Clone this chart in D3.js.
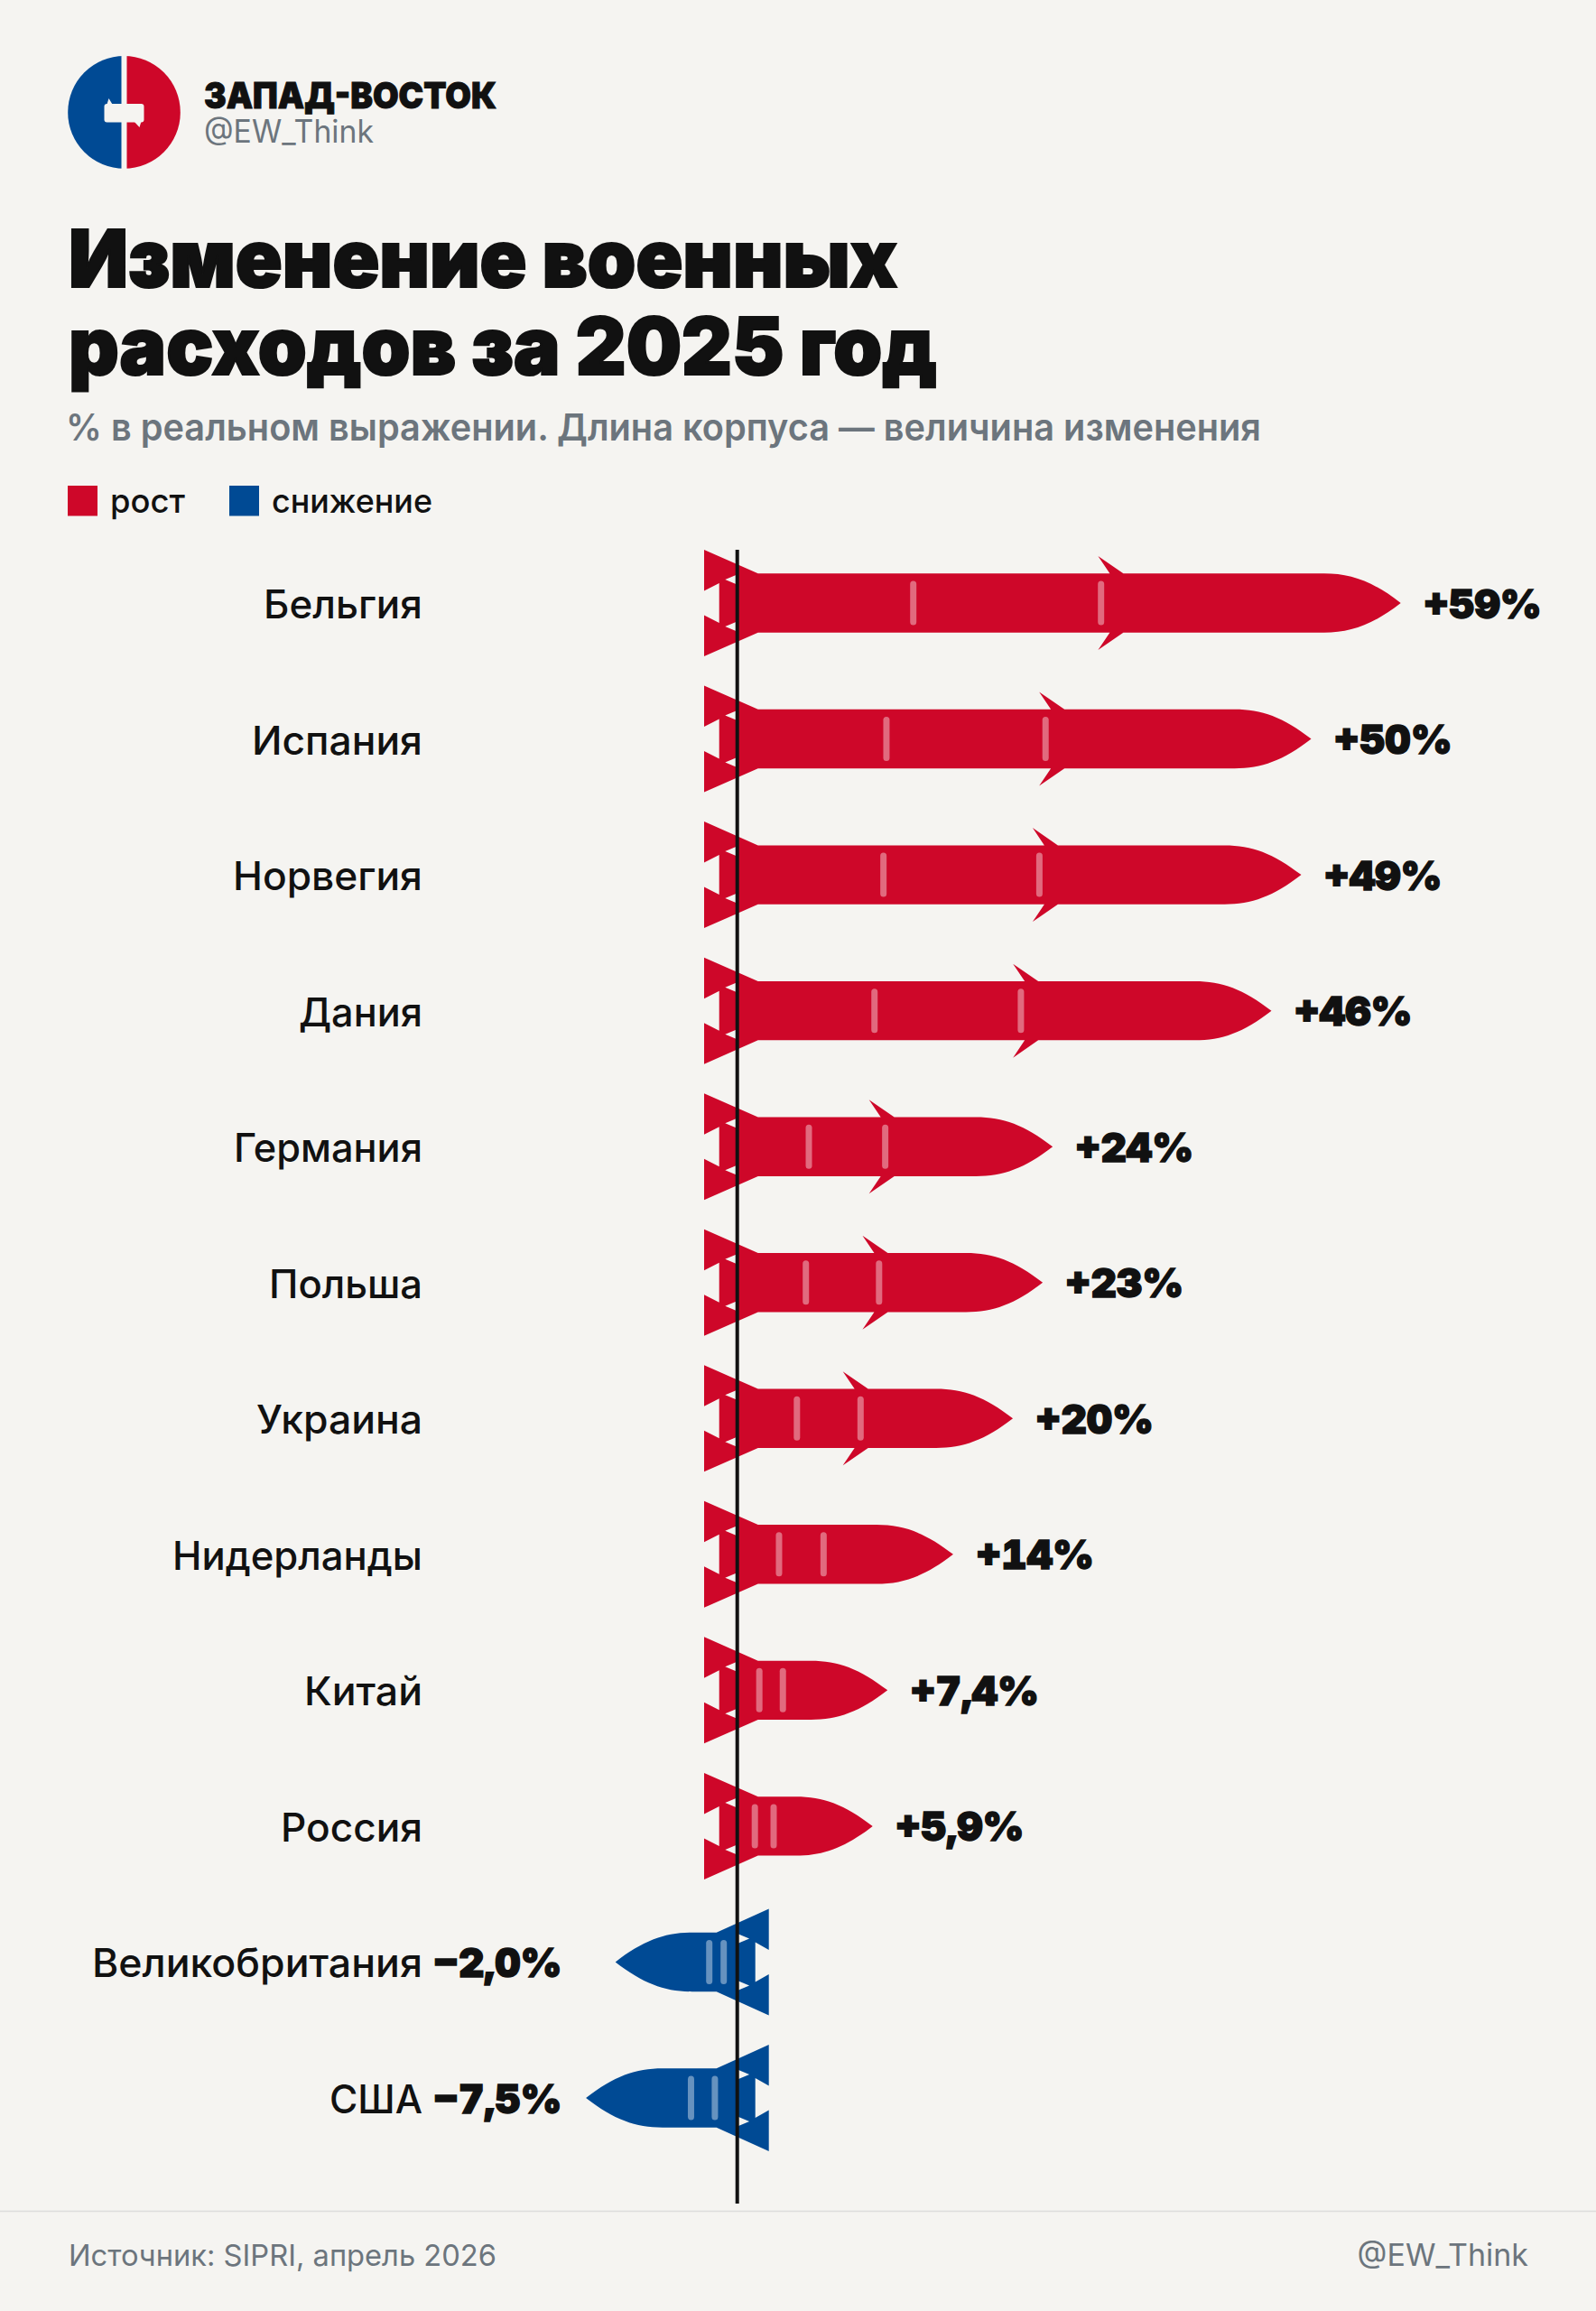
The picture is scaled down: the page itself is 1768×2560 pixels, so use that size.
<!DOCTYPE html>
<html><head><meta charset="utf-8">
<script src="https://cdn.jsdelivr.net/npm/d3@7/dist/d3.min.js"></script>
<style>html,body{margin:0;padding:0;background:#f5f4f1}svg{display:block}text{font-family:Inter,"Noto Sans",sans-serif}</style>
</head><body><div id="chart"></div>
<script>
const countries=["Бельгия","Испания","Норвегия","Дания","Германия","Польша","Украина","Нидерланды","Китай","Россия","Великобритания","США"];
const changes=[59,50,49,46,24,23,20,14,7.4,5.9,-2.0,-7.5];
const valueLabels=["+59%","+50%","+49%","+46%","+24%","+23%","+20%","+14%","+7,4%","+5,9%","−2,0%","−7,5%"];
const legendLabels=["рост","снижение"];
const labelWidths=[176,189,210,137,209,170,184,277,131,157,366,103];
const RED="#ce0729",BLUE="#004a94",INK="#111111",GREY="#6c757d",BG="#f5f4f1";
const W=1768,H=2560,ZERO=816.7;
const svg=d3.select("#chart").append("svg").attr("width",W).attr("height",H).attr("viewBox",`0 0 ${W} ${H}`);
svg.append("rect").attr("width",W).attr("height",H).attr("fill",BG);
function txt(s,x,y,size,weight,fill,anchor,len,stroke){const t=svg.append("text").attr("x",x).attr("y",y).attr("font-size",size).attr("font-weight",weight).attr("fill",fill).attr("text-anchor",anchor||"start").text(s);
 if(len){t.attr("textLength",len).attr("lengthAdjust","spacingAndGlyphs");}
 if(stroke){t.attr("stroke",fill).attr("stroke-width",stroke).attr("stroke-linejoin","miter");}return t;}
// logo
const lg=svg.append("g").attr("transform","translate(137.5,124.400)");
const arc=d3.arc().innerRadius(0).outerRadius(62.3);
lg.append("path").attr("d",arc({startAngle:-Math.PI,endAngle:0})).attr("fill",BLUE);
lg.append("path").attr("d",arc({startAngle:0,endAngle:Math.PI})).attr("fill",RED);
lg.append("rect").attr("x",-3).attr("y",-64).attr("width",6).attr("height",128).attr("fill",BG);
lg.append("rect").attr("x",-22).attr("y",-9.500).attr("width",44).attr("height",20.500).attr("rx",3).attr("fill",BG);
lg.append("path").attr("d","M-19,-9L-17,-15.500L-13,-9Z M11,10L17,16.500L19,10Z").attr("fill",BG);
txt("ЗАПАД-ВОСТОК",226,119.5,40,900,INK,"start",324,1);
txt("@EW_Think",226,158,35,400,GREY,"start",188);
txt("Изменение военных",76,318,88,900,INK,"start",918,2.2);
txt("расходов за 2025 год",76,415,88,900,INK,"start",962,2.2);
txt("% в реальном выражении. Длина корпуса — величина изменения",73,488,41,600,GREY,"start",1324);
const leg=[[75,122,RED,83],[254,301,BLUE,178]];
leg.forEach((l,i)=>{svg.append("rect").attr("x",l[0]).attr("y",538).attr("width",33).attr("height",33.500).attr("fill",l[2]);
 txt(legendLabels[i],l[1],568,37,500,INK,"start",l[3]);});
// chart
const y=d3.scalePoint().domain(countries).range([668,2324]);
const lenScale=d3.scaleLinear().domain([0,59]).range([0,650]);
const MIN_BODY=50,NOSE=85,HB=32.7;
function outline(L,back){const tip=L+NOSE,s=L;const p=d3.path();
 p.moveTo(-back,-59);p.lineTo(23,-HB);
 if(L>200){const f=.658*L-28;p.lineTo(f+13,-HB);p.lineTo(f,-52);p.lineTo(f+28,-HB);}
 p.lineTo(s,-HB);
 p.bezierCurveTo(s+30,-HB,s+54,-24,tip,0);
 p.bezierCurveTo(s+54,24,s+30,HB,s,HB);
 if(L>200){const f=.658*L-28;p.lineTo(f+28,HB);p.lineTo(f,52);p.lineTo(f+13,HB);}
 p.lineTo(23,HB);p.lineTo(-back,59);p.lineTo(-back,13.5);p.lineTo(-20,22);p.lineTo(-20,-22);p.lineTo(-back,-13.5);p.closePath();
 p.moveTo(-13.4,-26);p.lineTo(1,-32);p.lineTo(1,-20);p.closePath();
 p.moveTo(-13.4,26);p.lineTo(1,32);p.lineTo(1,20);p.closePath();
 return p.toString();}
const data=countries.map((c,i)=>({c,v:changes[i],lab:valueLabels[i],w:labelWidths[i]}));
const rows=svg.selectAll("g.row").data(data).join("g").attr("class","row")
 .attr("transform",d=>`translate(${ZERO},${y(d.c)}) scale(${d.v<0?-1:1},1)`);
rows.append("path").attr("d",d=>outline(Math.max(MIN_BODY,lenScale(Math.abs(d.v))),d.v<0?35:36.7)).attr("fill",d=>d.v<0?BLUE:RED).attr("fill-rule","evenodd");
[.3,.62].forEach(k=>rows.append("rect").attr("x",d=>k*Math.max(MIN_BODY,lenScale(Math.abs(d.v)))-3.500).attr("y",-24.500).attr("width",7).attr("height",49).attr("rx",3.500).attr("fill","#fff").attr("fill-opacity",.4));
svg.append("line").attr("x1",ZERO).attr("x2",ZERO).attr("y1",609).attr("y2",2441).attr("stroke",INK).attr("stroke-width",4);
data.forEach(d=>{const cy=y(d.c);const L=Math.max(MIN_BODY,lenScale(Math.abs(d.v)))+NOSE;
 txt(d.c,468-d.w,cy+17,43.5,500,INK,"start",d.w);
 const t=d.v>=0?txt(d.lab,ZERO+L+25,cy+16.500,44,900,INK,"start",null,1.4):txt(d.lab,622.5,cy+16.500,44,900,INK,"end",null,1.4);
 t.style("font-variant-numeric","tabular-nums");});
svg.append("line").attr("x1",0).attr("x2",W).attr("y1",2449.500).attr("y2",2449.500).attr("stroke","#dcdcdc").attr("stroke-width",1.500);
txt("Источник: SIPRI, апрель 2026",76,2510,33,400,GREY,"start",474);
txt("@EW_Think",1693,2510,34,400,GREY,"end");
</script></body></html>
